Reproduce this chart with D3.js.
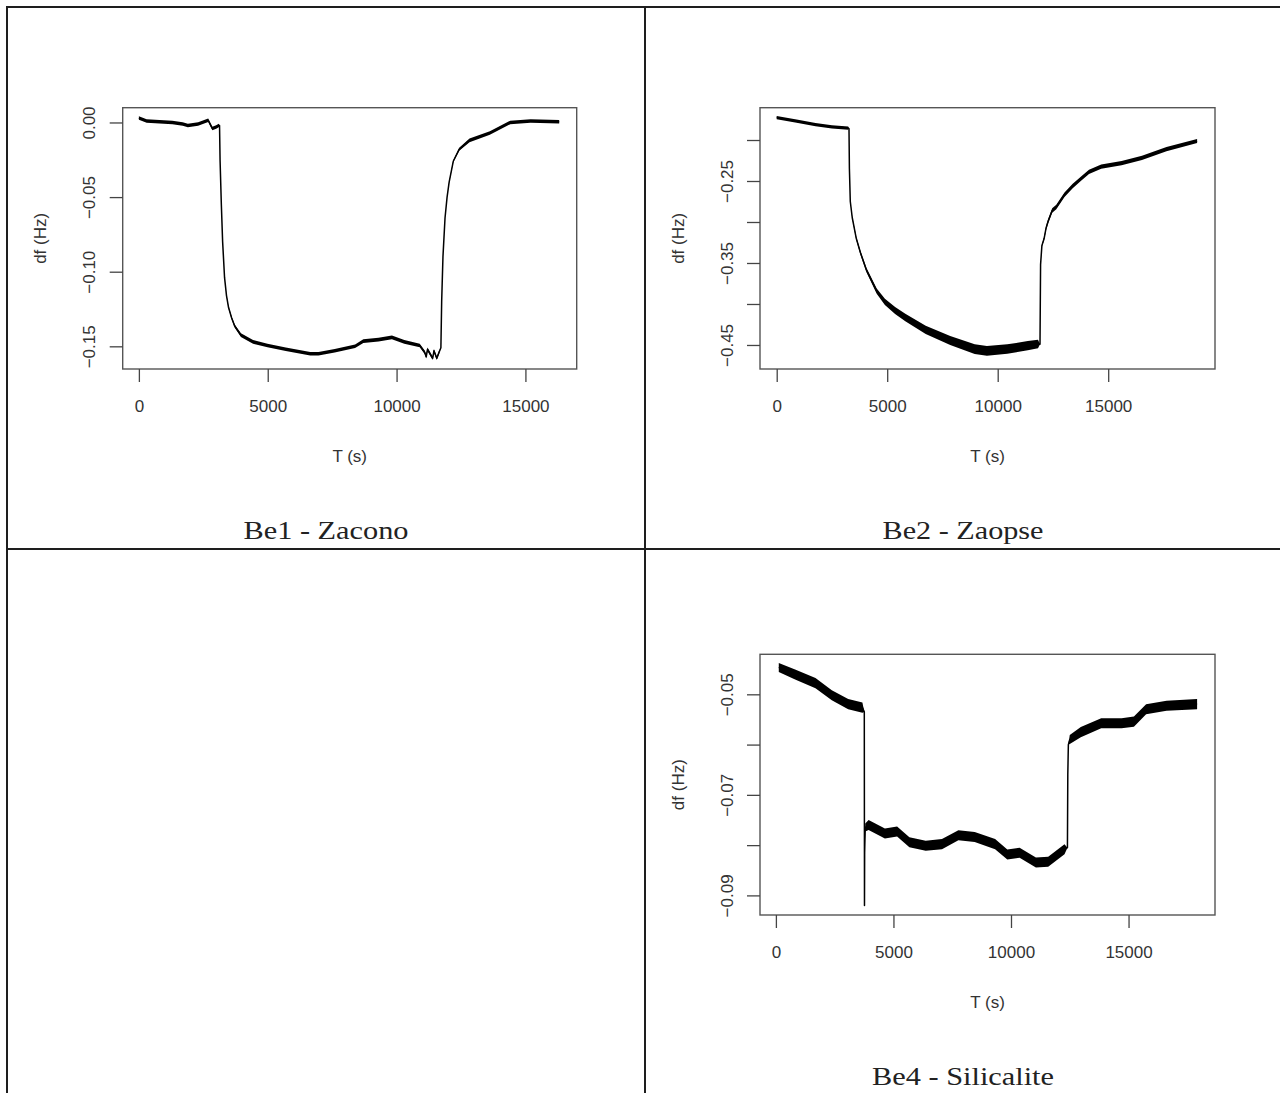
<!DOCTYPE html>
<html><head><meta charset="utf-8">
<script src="https://cdn.jsdelivr.net/npm/d3@7"></script>
<style>body{margin:0;background:#fff;overflow:hidden}</style>
</head><body><svg id="c" width="1280" height="1093"></svg>
<script>
// ---------- data ----------
const xTickValues = [0, 5000, 10000, 15000];

// Be1 - Zacono : time (s), df (Hz), half-width of the noise band (Hz)
const be1Time = [0,300,800,1300,1700,1900,2300,2690,2850,3000,3100,3130,3150,3200,3250,3325,3400,3480,3600,3720,3960,4430,4990,5700,6650,6970,7600,8390,8710,9300,9820,10300,10900,11090,11150,11200,11300,11400,11450,11560,11650,11720,11750,11800,11880,11960,12040,12200,12430,12830,13620,14410,15200,16310];
const be1Df   = [0.003,0.001,0.0005,0.0,-0.001,-0.002,-0.001,0.0015,-0.004,-0.003,-0.002,-0.002,-0.025,-0.055,-0.080,-0.104,-0.116,-0.124,-0.131,-0.1365,-0.1425,-0.147,-0.1495,-0.152,-0.155,-0.155,-0.153,-0.150,-0.1465,-0.1455,-0.144,-0.147,-0.1495,-0.154,-0.157,-0.152,-0.155,-0.158,-0.153,-0.158,-0.154,-0.151,-0.120,-0.090,-0.064,-0.050,-0.040,-0.026,-0.018,-0.012,-0.007,0.000,0.001,0.0005];
const be1Spread = [0.0012,0.0012,0.0012,0.0012,0.0012,0.0012,0.0012,0.0012,0.0012,0.0012,0.0012,0.0,0.0,0.0,0.0,0.0,0.0004,0.0006,0.0009,0.0011,0.0012,0.0012,0.0012,0.0012,0.0012,0.0012,0.0012,0.0012,0.0012,0.0012,0.0012,0.0012,0.0012,0.0012,0.0012,0.0012,0.0012,0.0012,0.0012,0.0012,0.0012,0.0,0.0,0.0,0.0,0.0,0.0004,0.0007,0.0010,0.0012,0.0012,0.0012,0.0012,0.0012];
const be1YTicks = [0.00, -0.05, -0.10, -0.15];
const be1YLabels = ["0.00", "\u22120.05", "\u22120.10", "\u22120.15"];

// Be2 - Zaopse
const be2Time = [0,900,1756,2500,3235,3271,3290,3330,3417,3602,3787,4063,4525,4896,5357,5819,6742,7851,8960,9512,10435,11362,11824,11914,11940,12000,12100,12190,12285,12466,12652,13022,13394,13760,14131,14683,15606,16529,17638,19023];
const be2Df   = [-0.1726,-0.177,-0.1812,-0.184,-0.1854,-0.186,-0.235,-0.275,-0.2945,-0.3202,-0.3373,-0.3588,-0.3844,-0.3973,-0.408,-0.4165,-0.4315,-0.4444,-0.455,-0.4572,-0.455,-0.4508,-0.4487,-0.449,-0.352,-0.3288,-0.3202,-0.3073,-0.2988,-0.286,-0.2817,-0.2667,-0.2561,-0.2475,-0.2389,-0.2325,-0.2283,-0.2218,-0.2111,-0.2012];
const be2Spread = [0.002,0.002,0.002,0.002,0.002,0.0,0.0,0.0,0.0012,0.0018,0.0022,0.0026,0.0032,0.0038,0.0042,0.0046,0.005,0.0055,0.006,0.006,0.0058,0.0055,0.0052,0.0,0.0,0.0015,0.002,0.0024,0.0026,0.0028,0.0028,0.0028,0.0028,0.0026,0.0026,0.0026,0.0026,0.0026,0.0026,0.0024];
const be2YTicks = [-0.20, -0.25, -0.30, -0.35, -0.40, -0.45];
const be2YLabels = ["", "\u22120.25", "", "\u22120.35", "", "\u22120.45"];

// Be4 - Silicalite
const be4Time = [123,817,1684,2378,3075,3680,3760,3768,3775,3800,3943,4636,5155,5678,6372,7065,7763,8456,9324,9843,10366,11059,11582,12276,12400,12416,12440,12500,12969,13837,14705,15228,15747,16615,17916];
const be4Df   = [-0.04465,-0.04604,-0.04777,-0.0502,-0.05195,-0.05265,-0.0535,-0.092,-0.0815,-0.0765,-0.0760,-0.0777,-0.0773,-0.07943,-0.08013,-0.0798,-0.07804,-0.0784,-0.0798,-0.08186,-0.08152,-0.08347,-0.0833,-0.08083,-0.0805,-0.0660,-0.0600,-0.0590,-0.05752,-0.05577,-0.05577,-0.05543,-0.05298,-0.05229,-0.05195];
const be4Spread = [0.0009,0.001,0.001,0.001,0.001,0.001,0.0,0.0,0.0,0.0008,0.001,0.001,0.001,0.001,0.001,0.001,0.001,0.001,0.001,0.001,0.001,0.001,0.001,0.001,0.0,0.0,0.0,0.0009,0.001,0.001,0.001,0.001,0.001,0.001,0.001];
const be4YTicks = [-0.05, -0.06, -0.07, -0.08, -0.09];
const be4YLabels = ["\u22120.05", "", "\u22120.07", "", "\u22120.09"];

const titles = ["Be1 - Zacono", "Be2 - Zaopse", "Be4 - Silicalite"];

// ---------- layout ----------
const panels = [
  {title: titles[0], titleW: 165, t: be1Time, v: be1Df, s: be1Spread, yTicks: be1YTicks, yLabels: be1YLabels,
   xDom: [-628, 16990], yDom: [-0.1652, 0.0099], box: {l: 122.7, r: 576.7, t: 107.7, b: 369}, cellCx: 326},
  {title: titles[1], titleW: 161, t: be2Time, v: be2Df, s: be2Spread, yTicks: be2YTicks, yLabels: be2YLabels,
   xDom: [-756, 19833], yDom: [-0.4793, -0.1606], box: {l: 760, r: 1215, t: 107.7, b: 369}, cellCx: 963},
  {title: titles[2], titleW: 182, t: be4Time, v: be4Df, s: be4Spread, yTicks: be4YTicks, yLabels: be4YLabels,
   xDom: [-676, 18677], yDom: [-0.0939, -0.04204], box: {l: 760, r: 1215, t: 654.3, b: 915}, cellCx: 963}
];

const svg = d3.select("#c");
const frame = svg.append("g").attr("stroke", "#1e1e1e").attr("stroke-width", 2);
frame.append("line").attr("x1", 6).attr("x2", 1280).attr("y1", 7).attr("y2", 7);
frame.append("line").attr("x1", 7).attr("x2", 7).attr("y1", 6).attr("y2", 1093);
frame.append("line").attr("x1", 645).attr("x2", 645).attr("y1", 6).attr("y2", 1093);
frame.append("line").attr("x1", 6).attr("x2", 1280).attr("y1", 549).attr("y2", 549);

const sans = "'Liberation Sans', Arial, Helvetica, sans-serif";
const tickCol = "#444";

panels.forEach(p => {
  const b = p.box;
  const x = d3.scaleLinear().domain(p.xDom).range([b.l, b.r]);
  const y = d3.scaleLinear().domain(p.yDom).range([b.b, b.t]);
  const g = svg.append("g");
  const pts = p.t.map((t, i) => ({t, v: p.v[i], s: p.s[i]}));

  // noise band
  g.append("path").datum(pts)
    .attr("fill", "#000")
    .attr("d", d3.area().x(d => x(d.t)).y0(d => y(d.v - d.s)).y1(d => y(d.v + d.s)));
  // centre line
  g.append("path").datum(pts)
    .attr("fill", "none").attr("stroke", "#000").attr("stroke-width", 1.5)
    .attr("stroke-linejoin", "round")
    .attr("d", d3.line().x(d => x(d.t)).y(d => y(d.v)));

  // box
  g.append("rect").attr("x", b.l).attr("y", b.t).attr("width", b.r - b.l).attr("height", b.b - b.t)
    .attr("fill", "none").attr("stroke", "#555").attr("stroke-width", 1.4);

  // x axis
  const xa = g.append("g").attr("transform", `translate(0,${b.b})`)
    .call(d3.axisBottom(x).tickValues(xTickValues).tickFormat(d3.format("d")).tickSize(13).tickSizeOuter(0).tickPadding(0));
  xa.select(".domain").remove();
  xa.selectAll("line").attr("stroke", tickCol).attr("stroke-width", 1.3);
  xa.selectAll("text").attr("y", 37).attr("dy", "0.35em")
    .attr("font-family", sans).attr("font-size", 17).attr("fill", "#333");

  // y axis
  const ya = g.append("g").attr("transform", `translate(${b.l},0)`)
    .call(d3.axisLeft(y).tickValues(p.yTicks).tickFormat((d, i) => p.yLabels[i]).tickSize(13).tickSizeOuter(0));
  ya.select(".domain").remove();
  ya.selectAll("line").attr("stroke", tickCol).attr("stroke-width", 1.3);
  ya.selectAll("text")
    .attr("x", null).attr("dy", null)
    .attr("transform", "translate(-33,0) rotate(-90)")
    .attr("text-anchor", "middle").attr("dominant-baseline", "central")
    .attr("font-family", sans).attr("font-size", 17).attr("fill", "#333");

  // axis titles
  g.append("text").attr("x", (b.l + b.r) / 2).attr("y", b.b + 87)
    .attr("text-anchor", "middle").attr("dominant-baseline", "central")
    .attr("font-family", sans).attr("font-size", 17).attr("fill", "#333").text("T (s)");
  g.append("text").attr("transform", `translate(${b.l - 82},${(b.t + b.b) / 2}) rotate(-90)`)
    .attr("text-anchor", "middle").attr("dominant-baseline", "central")
    .attr("font-family", sans).attr("font-size", 17).attr("fill", "#333").text("df (Hz)");

  // panel title
  g.append("text").attr("x", p.cellCx).attr("y", b.b + 161)
    .attr("text-anchor", "middle").attr("dominant-baseline", "central")
    .attr("font-family", "'Liberation Serif', 'Times New Roman', serif").attr("font-size", 26)
    .attr("textLength", p.titleW).attr("lengthAdjust", "spacingAndGlyphs")
    .attr("fill", "#222").text(p.title);
});
</script></body></html>
